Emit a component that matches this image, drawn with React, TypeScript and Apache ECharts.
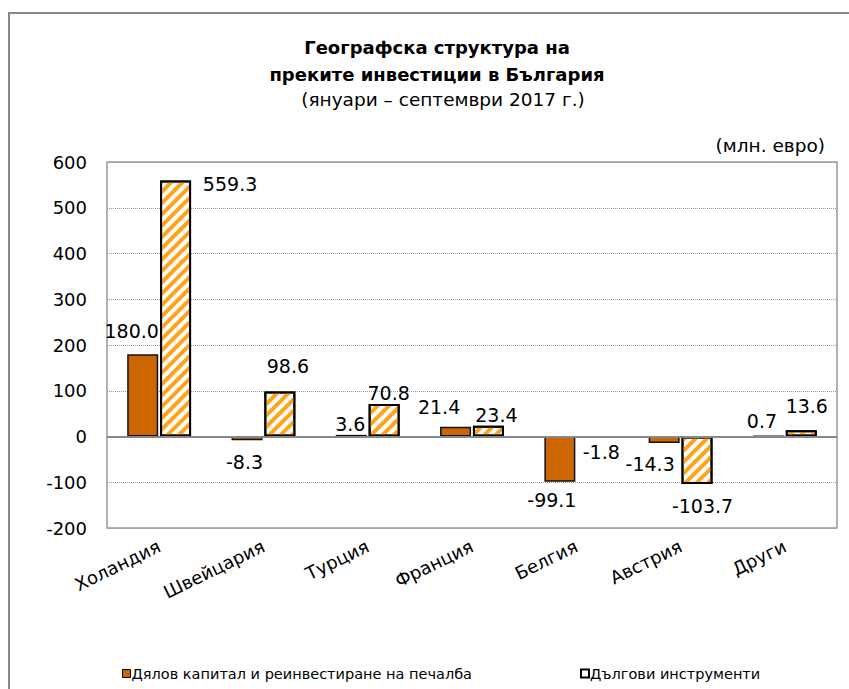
import React, { useEffect, useRef } from "react";
import * as echarts from "echarts";

const categories = ["Холандия", "Швейцария", "Турция", "Франция", "Белгия", "Австрия", "Други"];
const equityValues = [180.0, -8.3, 3.6, 21.4, -99.1, -14.3, 0.7];
const debtValues = [559.3, 98.6, 70.8, 23.4, -1.8, -103.7, 13.6];
const seriesNames = ["Дялов капитал и реинвестиране на печалба", "Дългови инструменти"];
const titleLines = ["Географска структура на", "преките инвестиции в България", "(януари – септември 2017 г.)"];
const unitLabel = "(млн. евро)";

// label offsets (layout only)
const equityLabelOffsets = [[-11, -14], [-2.5, 12.5], [-1, -1], [-16.5, -10], [-8, 9], [-14, 11.5], [-6.5, -4.7]];
const debtLabelOffsets = [[54.5, 13], [8, -16], [4.5, -1.5], [8, -1.5], [8.5, 5], [5.5, 12.6], [5.5, -14.8]];

const FONT = "DejaVu Sans";

function buildData(values: number[], offsets: number[][]) {
  return values.map((v, i) => ({
    value: v,
    label: {
      show: true,
      position: v >= 0 ? "top" : "bottom",
      distance: 0,
      offset: offsets[i],
      formatter: v.toFixed(1),
    },
  }));
}

export default function App() {
  const ref = useRef<HTMLDivElement>(null);
  useEffect(() => {
    if (!ref.current) return;
    const chart = echarts.init(ref.current, null, { renderer: "svg" });
    chart.setOption({
      animation: false,
      backgroundColor: "#fff",
      textStyle: { fontFamily: FONT },
      grid: { left: 107, right: 12, top: 162, bottom: 161, show: true, borderColor: "#999", borderWidth: 1.5, backgroundColor: "transparent" },
      graphic: [
        { type: "rect", shape: { x: 9, y: 13, width: 1000, height: 1000 }, style: { fill: "none", stroke: "#888", lineWidth: 2 }, silent: true, z: -1 },
        { type: "text", x: 437, y: 47, style: { text: titleLines[0], font: `bold 18px '${FONT}'`, fill: "#000", textAlign: "center", textVerticalAlign: "middle" } },
        { type: "text", x: 437, y: 74.5, style: { text: titleLines[1], font: `bold 18px '${FONT}'`, fill: "#000", textAlign: "center", textVerticalAlign: "middle" } },
        { type: "text", x: 443, y: 99.5, style: { text: titleLines[2], font: `18.5px '${FONT}'`, fill: "#000", textAlign: "center", textVerticalAlign: "middle" } },
        { type: "text", x: 825, y: 145, style: { text: unitLabel, font: `18.5px '${FONT}'`, fill: "#000", textAlign: "right", textVerticalAlign: "middle" } },
      ],
      legend: [
        {
          data: [{ name: seriesNames[0], itemStyle: { color: "#CC6600", borderColor: "#000", borderWidth: 1 } }],
          left: 122, top: 666, padding: 0, icon: "rect", itemWidth: 8, itemHeight: 8, itemGap: 4,
          textStyle: { fontFamily: FONT, fontSize: 14.5, color: "#000", padding: [0, 0, 0, -4] },
        },
        {
          data: [{ name: seriesNames[1], itemStyle: { color: "#fff", borderColor: "#000", borderWidth: 2, decal: "none" } }],
          left: 580, top: 666, padding: 0, icon: "rect", itemWidth: 8, itemHeight: 8, itemGap: 4,
          textStyle: { fontFamily: FONT, fontSize: 14.5, color: "#000", padding: [0, 0, 0, -4] },
        },
      ],
      xAxis: {
        type: "category",
        data: categories,
        axisLine: { show: false, onZero: false },
        axisTick: { show: false },
        axisLabel: { rotate: 26, margin: 17, fontSize: 18, color: "#000", fontFamily: FONT, interval: 0 },
      },
      yAxis: {
        type: "value",
        min: -200,
        max: 600,
        interval: 100,
        axisLine: { show: false },
        axisTick: { show: false },
        axisLabel: { margin: 20, fontSize: 18, color: "#000", fontFamily: FONT },
        splitLine: { show: true, lineStyle: { color: "#999", type: "dotted", width: 1 } },
      },
      series: [
        {
          name: seriesNames[0],
          type: "bar",
          data: buildData(equityValues, equityLabelOffsets),
          barWidth: 31,
          barGap: "6%",
          itemStyle: { color: "#CC6600", borderColor: "#111", borderWidth: 1.5 },
          label: { fontSize: 19, color: "#000", fontFamily: FONT },
          markLine: {
            silent: true,
            symbol: "none",
            label: { show: false },
            lineStyle: { color: "#888", type: "solid", width: 2 },
            data: [{ yAxis: 0 }],
          },
        },
        {
          name: seriesNames[1],
          type: "bar",
          data: buildData(debtValues, debtLabelOffsets),
          barWidth: 31,
          itemStyle: {
            color: "#fff",
            borderColor: "#000",
            borderWidth: 2,
            decal: {
              symbol: "rect",
              symbolSize: 1,
              dashArrayX: [1, 0],
              dashArrayY: [4, 4],
              rotation: -Math.PI / 4,
              color: "#FFA31A",
              backgroundColor: "#fff",
            },
          },
          label: { fontSize: 19, color: "#000", fontFamily: FONT },
        },
      ],
      aria: { enabled: false, decal: { show: false } },
    });
    return () => chart.dispose();
  }, []);
  return <div ref={ref} style={{ width: 849, height: 689, position: "absolute", left: 0, top: 0 }} />;
}
